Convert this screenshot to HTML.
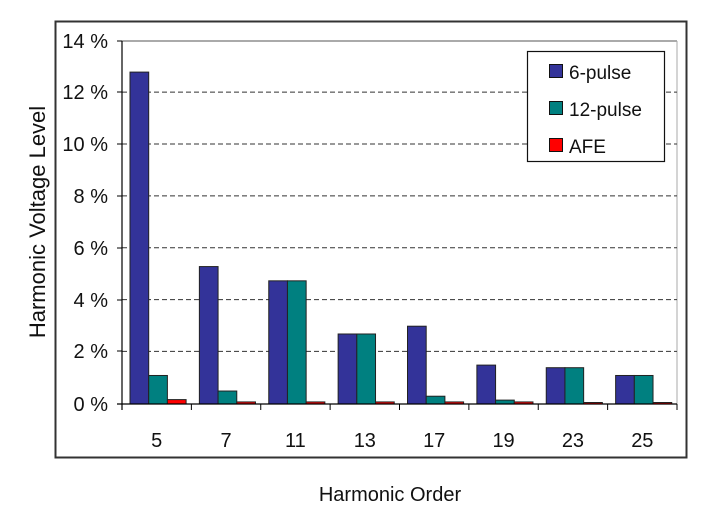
<!DOCTYPE html>
<html><head><style>
body{margin:0;background:#fff;width:711px;height:524px;overflow:hidden}
text{font-family:"Liberation Sans",sans-serif;fill:#111}
</style></head><body>
<svg width="711" height="524" xmlns="http://www.w3.org/2000/svg">
<rect x="55.5" y="21.5" width="631" height="436" fill="#fff" stroke="#333" stroke-width="2"/>
<line x1="122" y1="41" x2="677" y2="41" stroke="#aaa" stroke-width="2"/>
<line x1="677" y1="41" x2="677" y2="404" stroke="#aaa" stroke-width="1"/>
<g stroke="#333" stroke-width="1" stroke-dasharray="5,3">
<line x1="122" y1="92.1" x2="677" y2="92.1"/>
<line x1="122" y1="144" x2="677" y2="144"/>
<line x1="122" y1="195.9" x2="677" y2="195.9"/>
<line x1="122" y1="247.7" x2="677" y2="247.7"/>
<line x1="122" y1="299.6" x2="677" y2="299.6"/>
<line x1="122" y1="351.4" x2="677" y2="351.4"/>
</g>
<g id="bars" stroke="#222" stroke-width="1"></g>
<line x1="122" y1="41" x2="122" y2="410" stroke="#000" stroke-width="1.2"/>
<line x1="117" y1="404" x2="677" y2="404" stroke="#000" stroke-width="1.2"/>
<g stroke="#000"><line x1="117" y1="41" x2="122" y2="41"/><line x1="117" y1="92" x2="122" y2="92"/><line x1="117" y1="144" x2="122" y2="144"/><line x1="117" y1="196" x2="122" y2="196"/><line x1="117" y1="248" x2="122" y2="248"/><line x1="117" y1="300" x2="122" y2="300"/><line x1="117" y1="351" x2="122" y2="351"/></g>
<g font-size="20" text-anchor="end">
<text x="108" y="48">14 %</text><text x="108" y="99">12 %</text><text x="108" y="151">10 %</text>
<text x="108" y="203">8 %</text><text x="108" y="255">6 %</text><text x="108" y="307">4 %</text>
<text x="108" y="358">2 %</text><text x="108" y="411">0 %</text>
</g>
<text x="45" y="222" font-size="22" text-anchor="middle" transform="rotate(-90 45 222)">Harmonic Voltage Level</text>
<text x="390" y="501" font-size="20" text-anchor="middle">Harmonic Order</text>
<g id="xl" font-size="20" text-anchor="middle"></g>
<rect x="527.5" y="51.5" width="137" height="110" fill="#fff" stroke="#111" stroke-width="1.2"/>
<rect x="549.5" y="64.5" width="13" height="13" fill="#333399" stroke="#111"/>
<rect x="549.5" y="101.5" width="13" height="13" fill="#008080" stroke="#111"/>
<rect x="549.5" y="138.5" width="13" height="13" fill="#ff0000" stroke="#111"/>
<g font-size="19"><text x="569" y="79">6-pulse</text><text x="569" y="116">12-pulse</text><text x="569" y="153">AFE</text></g>
<script>
var d=[[5,12.8,1.1,0.17],[7,5.3,0.5,0.08],[11,4.75,4.75,0.08],[13,2.7,2.7,0.08],[17,3.0,0.3,0.08],[19,1.5,0.15,0.08],[23,1.4,1.4,0.03],[25,1.1,1.1,0.03]];
var c=["#333399","#008080","#ff0000"],g=document.getElementById("bars"),xl=document.getElementById("xl"),ns="http://www.w3.org/2000/svg",k=25.93,W=69.375;
d.forEach(function(r,i){var x0=122+i*W;
for(var j=0;j<3;j++){var h=Math.max(r[j+1]*k,1.5);var e=document.createElementNS(ns,"rect");
e.setAttribute("x",x0+8+j*18.7);e.setAttribute("y",404-h);e.setAttribute("width",18.7);e.setAttribute("height",h);e.setAttribute("fill",c[j]);g.appendChild(e);}
var t=document.createElementNS(ns,"line");t.setAttribute("x1",x0+W);t.setAttribute("x2",x0+W);t.setAttribute("y1",404);t.setAttribute("y2",410);t.setAttribute("stroke","#000");g.parentNode.appendChild(t);
var tx=document.createElementNS(ns,"text");tx.setAttribute("x",x0+W/2);tx.setAttribute("y",447);tx.textContent=r[0];xl.appendChild(tx);});
</script>
</svg>
</body></html>
